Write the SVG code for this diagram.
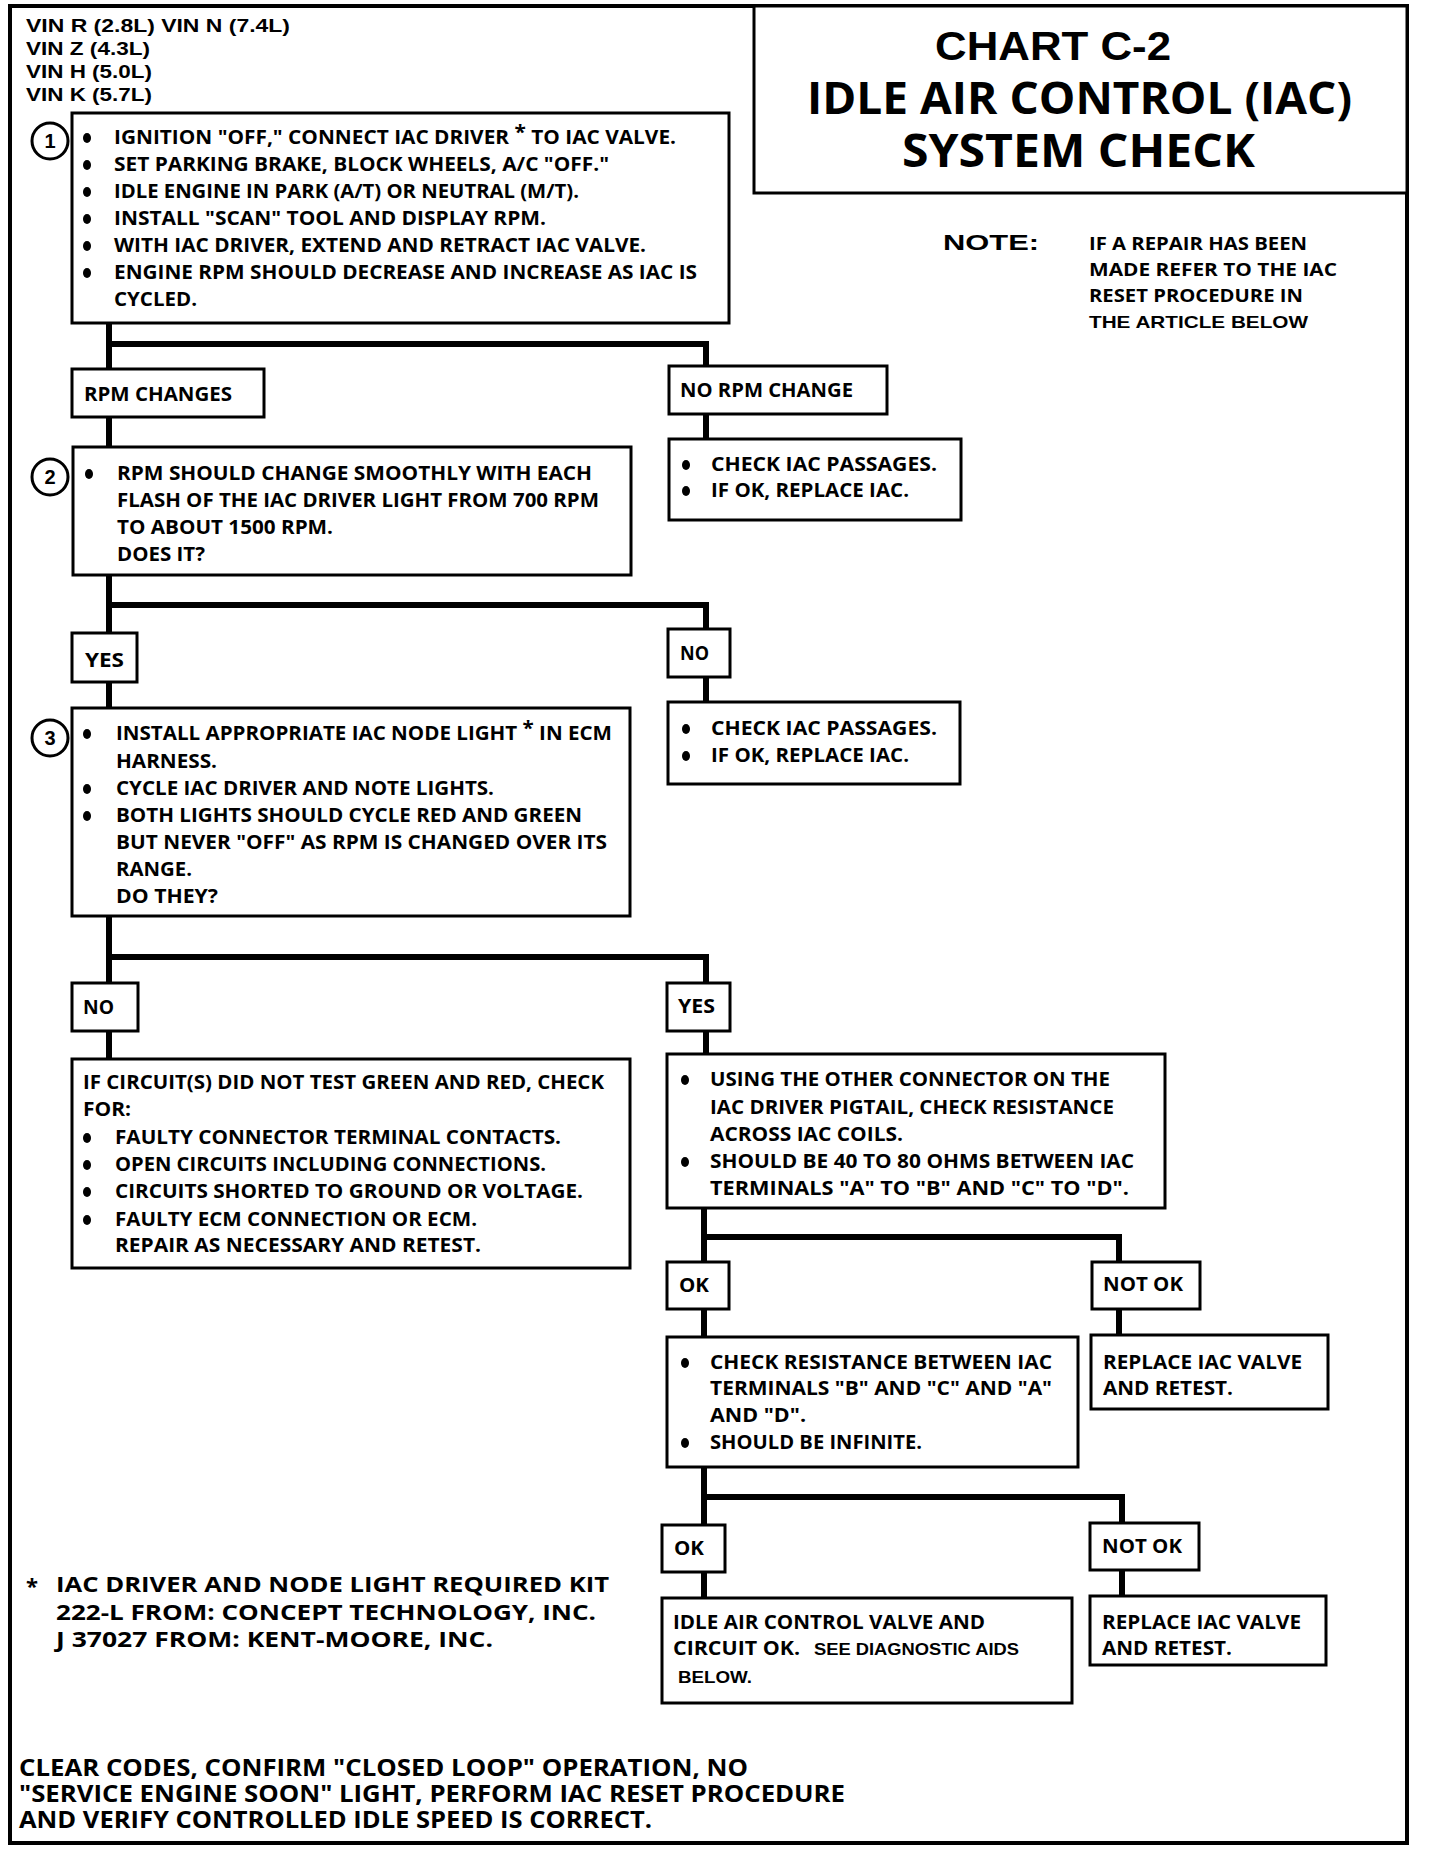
<svg xmlns="http://www.w3.org/2000/svg" width="1440" height="1862" viewBox="0 0 1440 1862">
<style>
.t{font-family:"Open Sans","Noto Sans",sans-serif;font-weight:700;font-size:19px;fill:#000}
.h{font-family:"Liberation Sans",Arial,sans-serif;font-weight:700;fill:#000}
.box{fill:#fff;stroke:#000;stroke-width:3}
.conn{fill:none;stroke:#000;stroke-width:6;stroke-linejoin:miter}
.b{fill:#000}
.num{fill:#fff;stroke:#000;stroke-width:3}
</style>
<rect x="0" y="0" width="1440" height="1862" fill="#fff"/>
<rect id="frame" x="10" y="6" width="1397" height="1837" fill="none" stroke="#000" stroke-width="4"/>

<g id="title">
<rect x="754" y="6" width="653" height="187" fill="#fff" stroke="#000" stroke-width="3"/>
<text class="h" x="935" y="60" style="font-size:41px" textLength="236" lengthAdjust="spacingAndGlyphs">CHART C-2</text>
<text class="t" x="807" y="114" style="font-size:44px" textLength="545" lengthAdjust="spacingAndGlyphs">IDLE AIR CONTROL (IAC)</text>
<text class="t" x="902" y="167" style="font-size:46px" textLength="353" lengthAdjust="spacingAndGlyphs">SYSTEM CHECK</text>
</g>

<g id="vin">
<text class="h" x="26" y="32" style="font-size:19px" textLength="264" lengthAdjust="spacingAndGlyphs">VIN R (2.8L)  VIN N (7.4L)</text>
<text class="h" x="26" y="55" style="font-size:19px" textLength="124" lengthAdjust="spacingAndGlyphs">VIN Z (4.3L)</text>
<text class="h" x="26" y="78" style="font-size:19px" textLength="126" lengthAdjust="spacingAndGlyphs">VIN H (5.0L)</text>
<text class="h" x="26" y="101" style="font-size:19px" textLength="126" lengthAdjust="spacingAndGlyphs">VIN K (5.7L)</text>
</g>

<g id="note">
<text class="h" x="943" y="250" style="font-size:22px" textLength="96" lengthAdjust="spacingAndGlyphs">NOTE:</text>
<text class="t" x="1089" y="250" style="font-size:17px" textLength="218" lengthAdjust="spacingAndGlyphs">IF A REPAIR HAS BEEN</text>
<text class="t" x="1089" y="276" style="font-size:17px" textLength="248" lengthAdjust="spacingAndGlyphs">MADE REFER TO THE IAC</text>
<text class="t" x="1089" y="302" style="font-size:17px" textLength="214" lengthAdjust="spacingAndGlyphs">RESET PROCEDURE IN</text>
<text class="h" x="1089" y="328" style="font-size:17px" textLength="219" lengthAdjust="spacingAndGlyphs">THE ARTICLE BELOW</text>
</g>

<g id="connectors">
<path class="conn" d="M109 324 V1059"/>
<path class="conn" d="M109 344 H706 V439"/>
<path class="conn" d="M109 605 H706 V702"/>
<path class="conn" d="M109 957 H706 V1054"/>
<path class="conn" d="M704 1208 V1598"/>
<path class="conn" d="M704 1237 H1119 V1335"/>
<path class="conn" d="M704 1497 H1122 V1596"/>
</g>

<g id="step1">
<rect class="box" x="72" y="113" width="657" height="210"/>
<circle class="num" cx="50" cy="141" r="18"/>
<text class="h" x="50" y="148" style="font-size:20px" text-anchor="middle">1</text>
<ellipse class="b" cx="87" cy="138" rx="4" ry="5"/>
<ellipse class="b" cx="87" cy="165" rx="4" ry="5"/>
<ellipse class="b" cx="87" cy="192" rx="4" ry="5"/>
<ellipse class="b" cx="87" cy="219" rx="4" ry="5"/>
<ellipse class="b" cx="87" cy="246" rx="4" ry="5"/>
<ellipse class="b" cx="87" cy="273" rx="4" ry="5"/>
<text class="t" x="114" y="144" textLength="562" lengthAdjust="spacingAndGlyphs">IGNITION "OFF," CONNECT IAC DRIVER <tspan dy="-5">*</tspan><tspan dy="5"> TO IAC VALVE.</tspan></text>
<text class="t" x="114" y="171" textLength="495" lengthAdjust="spacingAndGlyphs">SET PARKING BRAKE, BLOCK WHEELS, A/C "OFF."</text>
<text class="t" x="114" y="198" textLength="465" lengthAdjust="spacingAndGlyphs">IDLE ENGINE IN PARK (A/T) OR NEUTRAL (M/T).</text>
<text class="t" x="114" y="225" textLength="432" lengthAdjust="spacingAndGlyphs">INSTALL "SCAN" TOOL AND DISPLAY RPM.</text>
<text class="t" x="114" y="252" textLength="532" lengthAdjust="spacingAndGlyphs">WITH IAC DRIVER, EXTEND AND RETRACT IAC VALVE.</text>
<text class="t" x="114" y="279" textLength="583" lengthAdjust="spacingAndGlyphs">ENGINE RPM SHOULD DECREASE AND INCREASE AS IAC IS</text>
<text class="t" x="114" y="306" textLength="83" lengthAdjust="spacingAndGlyphs">CYCLED.</text>
</g>

<g id="rpm-changes">
<rect class="box" x="72" y="369" width="192" height="48"/>
<text class="t" x="84" y="401" textLength="148" lengthAdjust="spacingAndGlyphs">RPM CHANGES</text>
</g>

<g id="no-rpm-change">
<rect class="box" x="669" y="366" width="218" height="48"/>
<text class="t" x="680" y="397" textLength="173" lengthAdjust="spacingAndGlyphs">NO RPM CHANGE</text>
</g>

<g id="check-passages-1">
<rect class="box" x="669" y="439" width="292" height="81"/>
<ellipse class="b" cx="686" cy="465" rx="4" ry="5"/>
<ellipse class="b" cx="686" cy="491" rx="4" ry="5"/>
<text class="t" x="711" y="471" textLength="226" lengthAdjust="spacingAndGlyphs">CHECK IAC PASSAGES.</text>
<text class="t" x="711" y="497" textLength="198" lengthAdjust="spacingAndGlyphs">IF OK, REPLACE IAC.</text>
</g>

<g id="step2">
<rect class="box" x="73" y="447" width="558" height="128"/>
<circle class="num" cx="50" cy="477" r="18"/>
<text class="h" x="50" y="484" style="font-size:20px" text-anchor="middle">2</text>
<ellipse class="b" cx="89" cy="474" rx="4" ry="5"/>
<text class="t" x="117" y="480" textLength="475" lengthAdjust="spacingAndGlyphs">RPM SHOULD CHANGE SMOOTHLY WITH EACH</text>
<text class="t" x="117" y="507" textLength="482" lengthAdjust="spacingAndGlyphs">FLASH OF THE IAC DRIVER LIGHT FROM 700 RPM</text>
<text class="t" x="117" y="534" textLength="216" lengthAdjust="spacingAndGlyphs">TO ABOUT 1500 RPM.</text>
<text class="t" x="117" y="561" textLength="88" lengthAdjust="spacingAndGlyphs">DOES IT?</text>
</g>

<g id="yes-1">
<rect class="box" x="72" y="633" width="65" height="49"/>
<text class="t" x="85" y="667" textLength="39" lengthAdjust="spacingAndGlyphs">YES</text>
</g>

<g id="no-1">
<rect class="box" x="668" y="629" width="62" height="48"/>
<text class="t" x="680" y="660" textLength="29" lengthAdjust="spacingAndGlyphs">NO</text>
</g>

<g id="check-passages-2">
<rect class="box" x="668" y="702" width="292" height="82"/>
<ellipse class="b" cx="686" cy="729" rx="4" ry="5"/>
<ellipse class="b" cx="686" cy="756" rx="4" ry="5"/>
<text class="t" x="711" y="735" textLength="226" lengthAdjust="spacingAndGlyphs">CHECK IAC PASSAGES.</text>
<text class="t" x="711" y="762" textLength="198" lengthAdjust="spacingAndGlyphs">IF OK, REPLACE IAC.</text>
</g>

<g id="step3">
<rect class="box" x="72" y="708" width="558" height="208"/>
<circle class="num" cx="50" cy="738" r="18"/>
<text class="h" x="50" y="745" style="font-size:20px" text-anchor="middle">3</text>
<ellipse class="b" cx="87" cy="734" rx="4" ry="5"/>
<ellipse class="b" cx="87" cy="789" rx="4" ry="5"/>
<ellipse class="b" cx="87" cy="816" rx="4" ry="5"/>
<text class="t" x="116" y="740" textLength="496" lengthAdjust="spacingAndGlyphs">INSTALL APPROPRIATE IAC NODE LIGHT <tspan dy="-5">*</tspan><tspan dy="5"> IN ECM</tspan></text>
<text class="t" x="116" y="768" textLength="101" lengthAdjust="spacingAndGlyphs">HARNESS.</text>
<text class="t" x="116" y="795" textLength="378" lengthAdjust="spacingAndGlyphs">CYCLE IAC DRIVER AND NOTE LIGHTS.</text>
<text class="t" x="116" y="822" textLength="466" lengthAdjust="spacingAndGlyphs">BOTH LIGHTS SHOULD CYCLE RED AND GREEN</text>
<text class="t" x="116" y="849" textLength="491" lengthAdjust="spacingAndGlyphs">BUT NEVER "OFF" AS RPM IS CHANGED OVER ITS</text>
<text class="t" x="116" y="876" textLength="76" lengthAdjust="spacingAndGlyphs">RANGE.</text>
<text class="t" x="116" y="903" textLength="102" lengthAdjust="spacingAndGlyphs">DO THEY?</text>
</g>

<g id="no-2">
<rect class="box" x="72" y="983" width="66" height="48"/>
<text class="t" x="83" y="1014" textLength="31" lengthAdjust="spacingAndGlyphs">NO</text>
</g>

<g id="circuit-check">
<rect class="box" x="72" y="1059" width="558" height="209"/>
<ellipse class="b" cx="87" cy="1138" rx="4" ry="5"/>
<ellipse class="b" cx="87" cy="1165" rx="4" ry="5"/>
<ellipse class="b" cx="87" cy="1192" rx="4" ry="5"/>
<ellipse class="b" cx="87" cy="1220" rx="4" ry="5"/>
<text class="t" x="83" y="1089" textLength="521" lengthAdjust="spacingAndGlyphs">IF CIRCUIT(S) DID NOT TEST GREEN AND RED, CHECK</text>
<text class="t" x="83" y="1116" textLength="48" lengthAdjust="spacingAndGlyphs">FOR:</text>
<text class="t" x="115" y="1144" textLength="446" lengthAdjust="spacingAndGlyphs">FAULTY CONNECTOR TERMINAL CONTACTS.</text>
<text class="t" x="115" y="1171" textLength="431" lengthAdjust="spacingAndGlyphs">OPEN CIRCUITS INCLUDING CONNECTIONS.</text>
<text class="t" x="115" y="1198" textLength="468" lengthAdjust="spacingAndGlyphs">CIRCUITS SHORTED TO GROUND OR VOLTAGE.</text>
<text class="t" x="115" y="1226" textLength="362" lengthAdjust="spacingAndGlyphs">FAULTY ECM CONNECTION OR ECM.</text>
<text class="t" x="115" y="1252" textLength="366" lengthAdjust="spacingAndGlyphs">REPAIR AS NECESSARY AND RETEST.</text>
</g>

<g id="yes-2">
<rect class="box" x="667" y="983" width="63" height="48"/>
<text class="t" x="678" y="1013" textLength="37" lengthAdjust="spacingAndGlyphs">YES</text>
</g>

<g id="coil-resistance">
<rect class="box" x="667" y="1054" width="498" height="154"/>
<ellipse class="b" cx="685" cy="1080" rx="4" ry="5"/>
<ellipse class="b" cx="685" cy="1162" rx="4" ry="5"/>
<text class="t" x="710" y="1086" textLength="400" lengthAdjust="spacingAndGlyphs">USING THE OTHER CONNECTOR ON THE</text>
<text class="t" x="710" y="1114" textLength="404" lengthAdjust="spacingAndGlyphs">IAC DRIVER PIGTAIL, CHECK RESISTANCE</text>
<text class="t" x="710" y="1141" textLength="193" lengthAdjust="spacingAndGlyphs">ACROSS IAC COILS.</text>
<text class="t" x="710" y="1168" textLength="424" lengthAdjust="spacingAndGlyphs">SHOULD BE 40 TO 80 OHMS BETWEEN IAC</text>
<text class="t" x="710" y="1195" textLength="419" lengthAdjust="spacingAndGlyphs">TERMINALS "A" TO "B" AND "C" TO "D".</text>
</g>

<g id="ok-1">
<rect class="box" x="667" y="1262" width="62" height="47"/>
<text class="t" x="679" y="1292" textLength="30" lengthAdjust="spacingAndGlyphs">OK</text>
</g>

<g id="not-ok-1">
<rect class="box" x="1092" y="1262" width="108" height="47"/>
<text class="t" x="1103" y="1291" textLength="80" lengthAdjust="spacingAndGlyphs">NOT OK</text>
</g>

<g id="short-check">
<rect class="box" x="667" y="1337" width="411" height="130"/>
<ellipse class="b" cx="685" cy="1363" rx="4" ry="5"/>
<ellipse class="b" cx="685" cy="1443" rx="4" ry="5"/>
<text class="t" x="710" y="1369" textLength="342" lengthAdjust="spacingAndGlyphs">CHECK RESISTANCE BETWEEN IAC</text>
<text class="t" x="710" y="1395" textLength="342" lengthAdjust="spacingAndGlyphs">TERMINALS "B" AND "C" AND "A"</text>
<text class="t" x="710" y="1422" textLength="96" lengthAdjust="spacingAndGlyphs">AND "D".</text>
<text class="t" x="710" y="1449" textLength="212" lengthAdjust="spacingAndGlyphs">SHOULD BE INFINITE.</text>
</g>

<g id="replace-1">
<rect class="box" x="1091" y="1335" width="237" height="74"/>
<text class="t" x="1103" y="1369" textLength="199" lengthAdjust="spacingAndGlyphs">REPLACE IAC VALVE</text>
<text class="t" x="1103" y="1395" textLength="130" lengthAdjust="spacingAndGlyphs">AND RETEST.</text>
</g>

<g id="ok-2">
<rect class="box" x="662" y="1525" width="63" height="47"/>
<text class="t" x="674" y="1555" textLength="30" lengthAdjust="spacingAndGlyphs">OK</text>
</g>

<g id="not-ok-2">
<rect class="box" x="1090" y="1523" width="109" height="47"/>
<text class="t" x="1102" y="1553" textLength="80" lengthAdjust="spacingAndGlyphs">NOT OK</text>
</g>

<g id="system-ok">
<rect class="box" x="662" y="1598" width="410" height="105"/>
<text class="t" x="673" y="1629" textLength="312" lengthAdjust="spacingAndGlyphs">IDLE AIR CONTROL VALVE AND</text>
<text class="t" x="673" y="1655" textLength="127" lengthAdjust="spacingAndGlyphs">CIRCUIT OK.</text>
<text class="h" x="814" y="1655" style="font-size:17px" textLength="205" lengthAdjust="spacingAndGlyphs">SEE DIAGNOSTIC AIDS</text>
<text class="h" x="678" y="1683" style="font-size:17px" textLength="74" lengthAdjust="spacingAndGlyphs">BELOW.</text>
</g>

<g id="replace-2">
<rect class="box" x="1090" y="1596" width="236" height="69"/>
<text class="t" x="1102" y="1629" textLength="199" lengthAdjust="spacingAndGlyphs">REPLACE IAC VALVE</text>
<text class="t" x="1102" y="1655" textLength="130" lengthAdjust="spacingAndGlyphs">AND RETEST.</text>
</g>

<g id="footnote">
<text class="t" x="26" y="1594" style="font-size:22px">*</text>
<text class="t" x="56" y="1592" style="font-size:22px" textLength="553" lengthAdjust="spacingAndGlyphs">IAC DRIVER AND NODE LIGHT REQUIRED KIT</text>
<text class="t" x="56" y="1620" style="font-size:22px" textLength="540" lengthAdjust="spacingAndGlyphs">222-L FROM:  CONCEPT TECHNOLOGY, INC.</text>
<text class="t" x="56" y="1647" style="font-size:22px" textLength="437" lengthAdjust="spacingAndGlyphs">J 37027 FROM:  KENT-MOORE, INC.</text>
</g>

<g id="final-note">
<text class="t" x="19" y="1776" style="font-size:24px" textLength="729" lengthAdjust="spacingAndGlyphs">CLEAR CODES, CONFIRM "CLOSED LOOP" OPERATION, NO</text>
<text class="t" x="19" y="1802" style="font-size:24px" textLength="826" lengthAdjust="spacingAndGlyphs">"SERVICE ENGINE SOON" LIGHT, PERFORM IAC RESET PROCEDURE</text>
<text class="t" x="19" y="1828" style="font-size:24px" textLength="633" lengthAdjust="spacingAndGlyphs">AND VERIFY CONTROLLED IDLE SPEED IS CORRECT.</text>
</g>
</svg>
